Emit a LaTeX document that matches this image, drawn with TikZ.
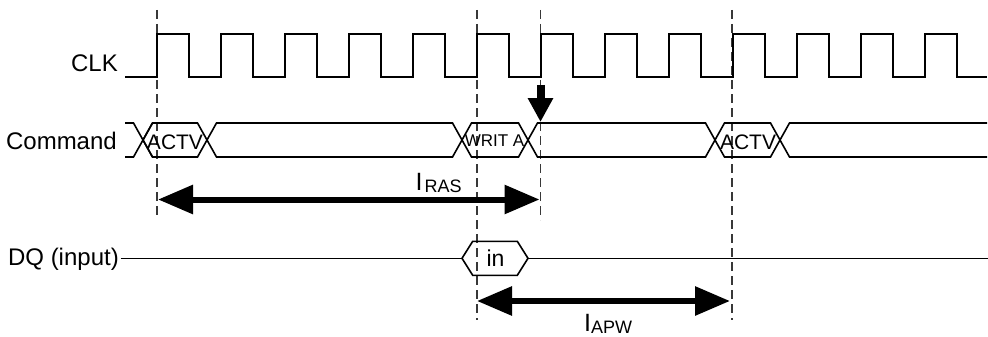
\documentclass[tikz,border=0pt]{standalone}
\usepackage{fontspec}
\setmainfont{Liberation Sans}
\usetikzlibrary{arrows.meta}
\begin{document}
\begin{tikzpicture}[x=1pt,y=-1pt,
  sig/.style={line width=1.9pt, line join=miter, line cap=butt},
  bus/.style={line width=1.6pt, line join=miter},
  guide/.style={line width=1.6pt, draw=black!78, dash pattern=on 9pt off 5pt},
  lab/.style={inner sep=0pt, font=\fontsize{24}{28}\selectfont},
  buslab/.style={inner sep=0pt, anchor=base},
  dimarrow/.style={line width=6pt, {Triangle[length=35pt,width=28pt]}-{Triangle[length=35pt,width=28pt]}},
  downarrow/.style={line width=8pt, -{Triangle[length=24pt,width=24pt]}},
]
\useasboundingbox (0,0) rectangle (988,337);

% guide lines
\coordinate (g1t) at (157,10);   \coordinate (g1b) at (157,218);
\coordinate (g2t) at (477,10);   \coordinate (g2b) at (477,320);
\coordinate (g3t) at (540.5,10); \coordinate (g3b) at (540.5,220);
\coordinate (g4t) at (732,10);   \coordinate (g4b) at (732,320);
\draw[guide] (g1t) -- (g1b);
\draw[guide] (g2t) -- (g2b);
\draw[guide] (g3t) -- (g3b);
\draw[guide] (g4t) -- (g4b);

% labels
\node[lab, anchor=base east] (clk) at (118,72) {CLK};
\node[lab, anchor=base east] (cmd) at (117,149.5) {Command};
\node[lab, anchor=base east] (dq) at (119,265.5) {DQ (input)};

% clock
\draw[sig] (125,77) -- (157,77)
  \foreach \k in {0,...,11} { -- ++(0,-43) -- ++(32,0) -- ++(0,43) -- ++(32,0) }
  -- ++(0,-43) -- ++(32,0) -- ++(0,43) -- (987,77);

% command bus (transition centres 143, 207, 462, 528, 715, 780; half width 9.5)
\draw[bus] (125,123) -- (133.5,123) -- (152.5,157);
\draw[bus] (125,157) -- (133.5,157) -- (152.5,123);
\foreach \a/\b in {143/207, 207/462, 462/528, 528/715, 715/780} {
  \draw[bus] (\a,140) -- (\a+9.5,123) -- (\b-9.5,123) -- (\b,140) -- (\b-9.5,157) -- (\a+9.5,157) -- cycle;
}
\draw[bus] (780,140) -- (789.5,123) -- (987,123);
\draw[bus] (780,140) -- (789.5,157) -- (987,157);

\node[buslab, font=\fontsize{21}{24}\selectfont] (actv1) at (175,149) {ACTV};
\node[buslab, font=\fontsize{17}{20}\selectfont] (writa) at (494.5,146.5) {WRIT A};
\node[buslab, font=\fontsize{21}{24}\selectfont] (actv2) at (748,149) {ACTV};

% down arrow
\coordinate (da1) at (540.5,85);
\coordinate (da2) at (540.5,122);
\draw[downarrow] (da1) -- (da2);

% tRAS arrow
\coordinate (r1) at (158,199.5);
\coordinate (r2) at (539.5,199.5);
\draw[dimarrow] (r1) -- (r2);
\node[inner sep=0pt, anchor=base west, font=\fontsize{25}{28}\selectfont] (iras) at (415.5,190.5)
  {I\hspace{2pt}\raisebox{-2pt}{\fontsize{18}{20}\selectfont RAS}};

% DQ line
\coordinate (dq0) at (120.7,258.3);
\coordinate (dqa) at (462,258.3);
\coordinate (dqb) at (528,258.3);
\coordinate (dq9) at (988,258.3);
\draw[bus, line width=1.4pt] (dq0) -- (dqa);
\draw[bus] (dqa) -- (472.7,241.3) -- (517.3,241.3) -- (dqb) -- (517.3,275.3) -- (472.7,275.3) -- cycle;
\draw[bus, line width=1.4pt] (dqb) -- (dq9);
\node[buslab, font=\fontsize{23}{26}\selectfont] (din) at (495.5,266.5) {in};

% tAPW arrow
\coordinate (p1) at (477,301);
\coordinate (p2) at (730,301);
\draw[dimarrow] (p1) -- (p2);
\node[inner sep=0pt, anchor=base west, font=\fontsize{25}{28}\selectfont] (iapw) at (584,331.5)
  {I\raisebox{-2pt}{\fontsize{18}{20}\selectfont APW}};

\end{tikzpicture}
\end{document}
